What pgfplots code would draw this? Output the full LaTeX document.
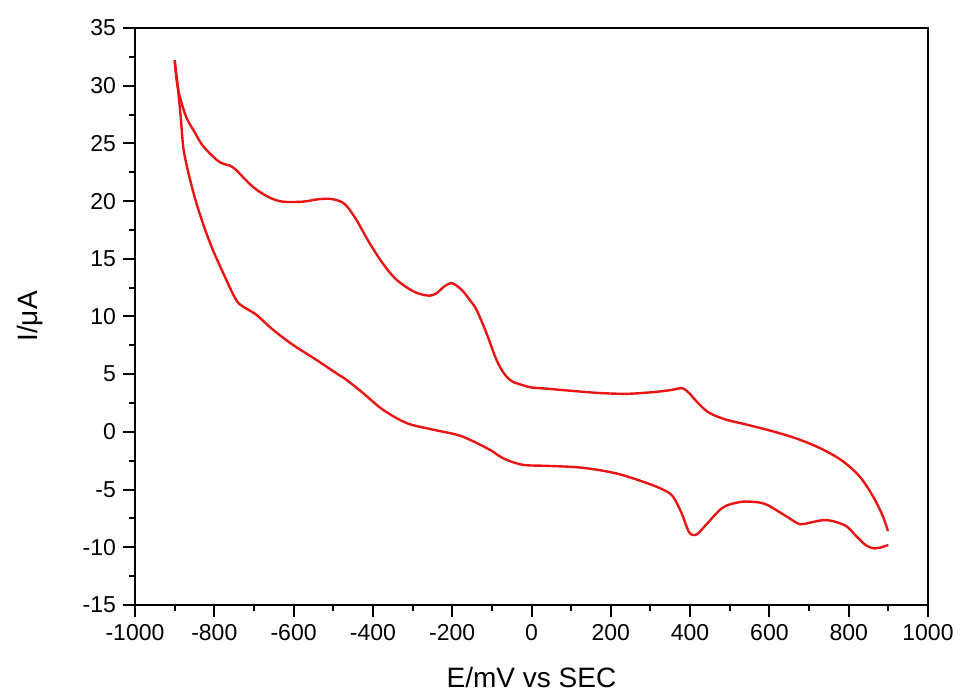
\documentclass[border=0pt]{standalone}
\usepackage{pgfplots}
\pgfplotsset{compat=1.18}
\usepackage{fontspec}
\setmainfont{Liberation Sans}
\definecolor{cvred}{RGB}{235,20,20}
\begin{document}
\begin{tikzpicture}
\begin{axis}[
  at={(0,0)}, anchor=south west,
  scale only axis, width=396.5pt, height=288.5pt,
  xmin=-1000, xmax=1000, ymin=-15, ymax=35,
  xtick={-1000,-800,...,1000}, ytick={-15,-10,...,35},
  minor x tick num=1, minor y tick num=1,
  xtick pos=left, ytick pos=left,
  tick align=outside,
  major tick length=6pt, minor tick length=3pt,
  axis line style={line width=1pt}, every tick/.style={black, line width=1pt},
  scaled x ticks=false, scaled y ticks=false,
  /pgf/number format/assume math mode=true,
  /pgf/number format/1000 sep={},
  tick label style={font=\fontsize{11.5}{13}\selectfont},
  xlabel={E/mV vs SEC}, ylabel={I/μA},
  label style={font=\fontsize{14}{16}\selectfont},
  xlabel style={at={(axis description cs:0.5,-0.1438)}, anchor=base},
  ylabel style={at={(axis description cs:-0.1324,0.5)}, anchor=center},
]
\addplot[cvred, line width=1.2pt, smooth, tension=0.55] coordinates {
(-900,32.2) (-895,30.5) (-888,29.2) (-871,27.3) (-850,26.0) (-829,24.8)
(-795,23.6) (-775,23.2) (-762,23.1) (-745,22.7) (-720,21.8) (-694,21.0)
(-660,20.3) (-627,19.95) (-577,19.95) (-540,20.15) (-509,20.2) (-484,20.0)
(-467,19.6) (-442,18.4) (-409,16.4) (-375,14.6) (-341,13.2) (-299,12.2)
(-270,11.85) (-257,11.8) (-240,12.0) (-220,12.6) (-203,12.9) (-190,12.7)
(-173,12.2) (-155,11.4) (-139,10.6) (-114,8.6) (-89,6.3) (-70,5.1)
(-50,4.4) (-22,4.05) (0,3.85) (37,3.75) (87,3.6) (171,3.37) (239,3.3)
(290,3.4) (323,3.5) (356,3.65) (378,3.8) (390,3.6) (398,3.35) (424,2.36)
(449,1.64) (491,1.06) (550,0.57) (617,-0.03) (676,-0.67) (735,-1.53)
(785,-2.54) (827,-3.84) (861,-5.57) (886,-7.3) (899,-8.6)
};
\addplot[cvred, line width=1.2pt, smooth, tension=0.55] coordinates {
(900,-9.8) (878,-10.04) (865,-10.1) (844,-9.84) (819,-9.03) (794,-8.17)
(760,-7.73) (735,-7.65) (701,-7.87) (676,-7.99) (642,-7.3) (592,-6.29)
(558,-6.06) (524,-6.09) (482,-6.57) (441,-8.02) (420,-8.8) (408,-8.94)
(396,-8.6) (378,-7.0) (356,-5.57) (331,-4.99) (289,-4.41) (214,-3.6)
(129,-3.11) (45,-2.95) (-13,-2.89) (-40,-2.7) (-64,-2.4) (-81,-2.1)
(-106,-1.53) (-156,-0.67) (-190,-0.23) (-257,0.26) (-316,0.78) (-375,1.93)
(-425,3.37) (-467,4.52) (-493,5.1) (-543,6.25) (-602,7.55) (-652,8.85)
(-694,10.15) (-728,10.87) (-745,11.44) (-770,13.2) (-804,15.8) (-829,18.1)
(-850,20.4) (-867,22.7) (-878,24.6) (-884,27.0) (-892,29.9) (-900,32.2)
};
\end{axis}
\pgfresetboundingbox
\path (-67.5pt,-45.5pt) rectangle (412.5pt,302.5pt);
\end{tikzpicture}
\end{document}
